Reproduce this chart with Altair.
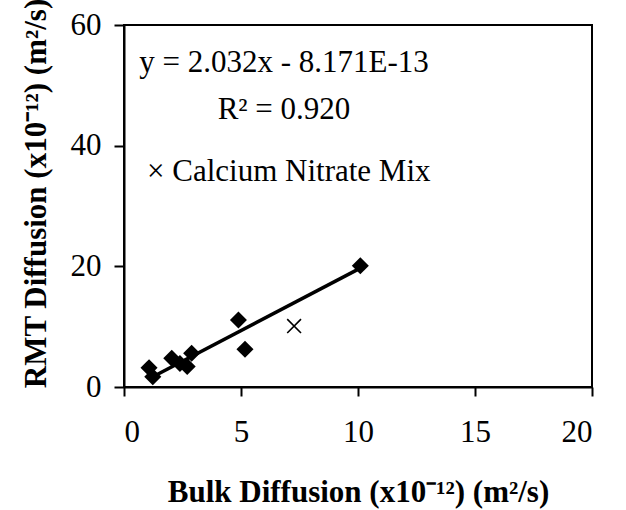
import altair as alt
import pandas as pd

# Bulk vs RMT diffusion coefficients (x10^-12 m^2/s)
bulk = [1.07, 1.23, 2.04, 2.39, 2.70, 2.89, 4.89, 5.17, 10.1]
rmt = [3.2, 1.7, 4.75, 3.9, 3.4, 5.6, 11.1, 6.25, 20.1]

# Calcium nitrate mix point (excluded from the fit)
ca_bulk = [7.27]
ca_rmt = [10.1]

# Linear fit y = slope*x + intercept (intercept -8.171E-13 -> -0.8171 in x10^-12 units)
slope = 2.032
intercept = -0.8171

FONT = "Liberation Serif"
FS = 31

pts = pd.DataFrame({"bulk": bulk, "rmt": rmt})
ca = pd.DataFrame({"bulk": ca_bulk, "rmt": ca_rmt})
x_ends = [min(bulk), max(bulk)]
fit = pd.DataFrame({"bulk": x_ends, "rmt": [slope * v + intercept for v in x_ends]})

x_scale = alt.Scale(domain=[0, 20], nice=False, zero=False)
y_scale = alt.Scale(domain=[0, 60], nice=False, zero=False)

x_enc = alt.X(
    "bulk:Q",
    scale=x_scale,
    axis=alt.Axis(
        title="Bulk Diffusion (x10⁻¹²) (m²/s)",
        values=[0, 5, 10, 15, 20],
        grid=False,
        domainColor="black",
        domainWidth=2,
        tickColor="black",
        tickWidth=2,
        tickSize=9,
        labelPadding=21,
        labelFont=FONT,
        labelFontSize=FS,
        labelColor="black",
        titleFont=FONT,
        titleFontSize=FS,
        titleFontWeight="bold",
        titleColor="black",
        titleBaseline="alphabetic",
        titleY=114,
    ),
)
y_enc = alt.Y(
    "rmt:Q",
    scale=y_scale,
    axis=alt.Axis(
        title="RMT Diffusion (x10⁻¹²) (m²/s)",
        values=[0, 20, 40, 60],
        grid=False,
        domainColor="black",
        domainWidth=2,
        tickColor="black",
        tickWidth=2,
        tickSize=10,
        labelPadding=13,
        labelFont=FONT,
        labelFontSize=FS,
        labelColor="black",
        titleFont=FONT,
        titleFontSize=FS,
        titleFontWeight="bold",
        titleColor="black",
        titleBaseline="alphabetic",
        titleX=-79,
        titleY=168,
    ),
)

points = alt.Chart(pts).mark_point(
    shape="diamond", filled=True, color="black", size=290, opacity=1
).encode(x=x_enc, y=y_enc)

fit_line = alt.Chart(fit).mark_line(color="black", strokeWidth=3.5).encode(
    x="bulk:Q", y="rmt:Q"
)

cross = alt.Chart(ca).mark_point(
    shape="M-1,-1L1,1M1,-1L-1,1", filled=False, color="black",
    strokeWidth=1.6, size=190, opacity=1
).encode(x="bulk:Q", y="rmt:Q")

# Annotation positions in pixels, relative to the plot area
notes = pd.DataFrame({
    "label": ["y = 2.032x - 8.171E-13", "R² = 0.920", "× Calcium Nitrate Mix"],
    "px": [160, 160, 23],
    "py": [38, 85, 147],
    "al": ["center", "center", "left"],
})

note_c = alt.Chart(notes[notes.al == "center"]).mark_text(
    font=FONT, fontSize=FS, color="black", align="center", baseline="middle"
).encode(x=alt.X("px:Q", scale=None), y=alt.Y("py:Q", scale=None), text="label:N")
note_l = alt.Chart(notes[notes.al == "left"]).mark_text(
    font=FONT, fontSize=FS, color="black", align="left", baseline="middle"
).encode(x=alt.X("px:Q", scale=None), y=alt.Y("py:Q", scale=None), text="label:N")

chart = alt.layer(points, fit_line, cross, note_c, note_l).properties(
    width=468,
    height=362,
    autosize=alt.AutoSizeParams(type="none"),
    padding={"left": 124, "top": 25, "right": 34, "bottom": 123},
    background="white",
).configure_view(stroke="black", strokeWidth=2)

chart.save("out.html", embed_options={"renderer": "svg", "actions": False})
